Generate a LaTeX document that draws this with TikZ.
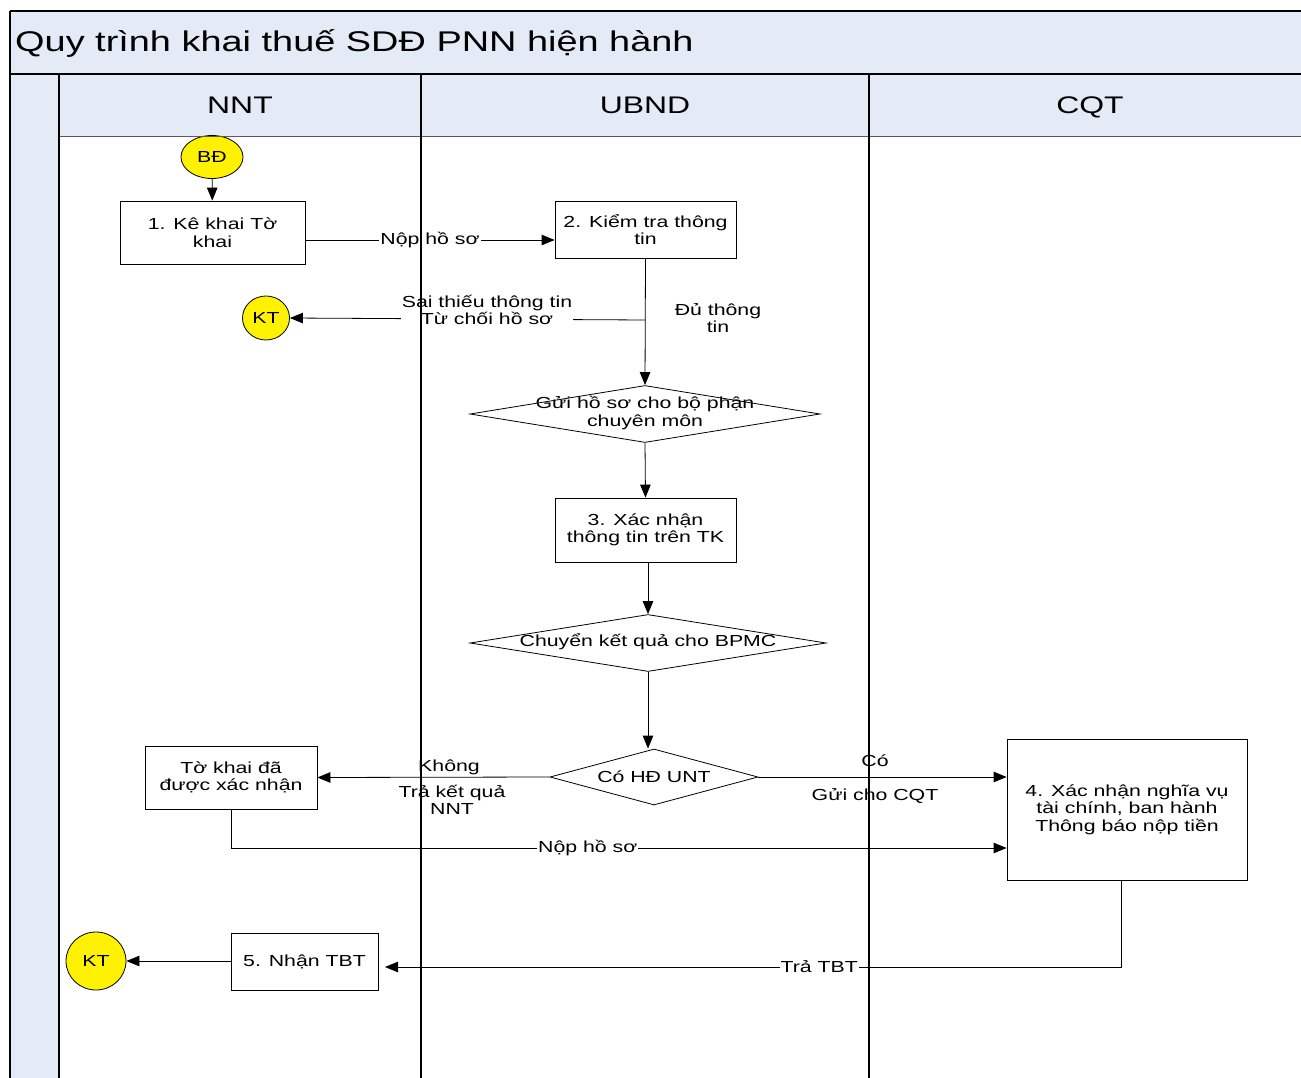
\documentclass[tikz,border=0pt]{standalone}
\usepackage{fontspec}
\setmainfont{Liberation Sans}[FakeStretch=1.33]
\usetikzlibrary{arrows.meta,shapes.geometric}
\definecolor{lanebg}{RGB}{228,235,246}
\definecolor{lanegray}{RGB}{90,90,90}
\tikzset{
  every node/.style={font=\fontsize{16}{17.5}\selectfont},
  proc/.style={draw=black, line width=0.8pt, fill=white, inner sep=0pt, align=center},
  dia/.style={draw=black, line width=0.8pt, diamond, inner sep=0pt},
  term/.style={draw=black, line width=0.8pt, fill=yellow, ellipse, inner sep=0pt},
  arr/.style={line width=0.8pt, -{Triangle[length=13pt,width=10.5pt]}},
  lbl/.style={align=center, inner sep=1pt},
  wlbl/.style={align=center, inner sep=1pt, fill=white},
  lane/.style={line width=1.2pt, draw=black},
  hdr/.style={font=\fontsize{24}{28}\selectfont, anchor=base}
}
\begin{document}
\begin{tikzpicture}[x=1pt,y=-1pt]
\useasboundingbox (0,0) rectangle (1301,1078);
% backgrounds
\fill[lanebg] (10,11) rectangle (1301,74);
\fill[lanebg] (10,74) rectangle (1301,137);
\fill[lanebg] (10,137) rectangle (59,1078);
\node[anchor=base west, inner sep=0pt, font=\fontsize{28.5}{32}\selectfont] (title) at (15,52) {Quy trình khai thuế SDĐ PNN hiện hành};
\node[hdr] (hnnt) at (240,113.5) {NNT};
\node[hdr] (hubnd) at (645,113.5) {UBND};
\node[hdr] (hcqt) at (1090,113.5) {CQT};

% nodes
\node[term, minimum width=62pt, minimum height=43pt] (bd) at (212,157) {BĐ};
\node[proc, minimum width=185pt, minimum height=63pt] (b1) at (212.5,232.5) {1. Kê khai Tờ\\khai};
\node[proc, minimum width=181pt, minimum height=57pt] (b2) at (645.5,229.5) {2. Kiểm tra thông\\tin};
\node[term, minimum width=47pt, minimum height=44pt] (kt1) at (266,318) {KT};
\node[dia, minimum width=350pt, minimum height=57pt] (d1) at (645,414) {};
\node[lbl] (d1t) at (645,413) {Gửi hồ sơ cho bộ phận\\chuyên môn};
\node[proc, minimum width=181pt, minimum height=64pt] (b3) at (645.5,530) {3. Xác nhận\\thông tin trên TK};
\node[dia, minimum width=356pt, minimum height=57pt] (d2) at (648,643) {};
\node[lbl] (d2t) at (648,642) {Chuyển kết quả cho BPMC};
\node[dia, minimum width=208pt, minimum height=56pt] (d3) at (654,777) {};
\node[lbl] (d3t) at (654,777) {Có HĐ UNT};
\node[proc, minimum width=172pt, minimum height=63pt] (tk) at (231,777.5) {Tờ khai đã\\được xác nhận};
\node[proc, minimum width=240pt, minimum height=141pt] (b4) at (1127,809.5) {4. Xác nhận nghĩa vụ\\tài chính, ban hành\\Thông báo nộp tiền};
\node[proc, minimum width=147pt, minimum height=57pt] (b5) at (304.5,961.5) {5. Nhận TBT};
\node[term, minimum width=60pt, minimum height=58pt] (kt2) at (96,961) {KT};

% connectors
\coordinate (y240) at (0,240);
\draw[arr] (bd) -- (b1);
\draw[arr] (b1.east |- y240) -- node[wlbl, pos=0.5] {Nộp hồ sơ} (b2.west |- y240);
\coordinate (br) at (645,320);
\draw[arr] (b2.south) -- (d1.north);
\draw[arr] (br) -- (kt1.east);
\node[wlbl] (sai) at (487,310) {Sai thiếu thông tin\\Từ chối hồ sơ};
\node[lbl] (du) at (718,318) {Đủ thông\\tin};
\draw[arr] (d1.south) -- (b3.north);
\draw[arr] (b3.south -| d2.north) -- (d2.north);
\draw[arr] (d2.south) -- (d3.north -| d2.south);
\draw[arr] (d3.west) -- (tk.east);
\node[lbl] (khong) at (449,767) {Không};
\node[lbl] (trakq) at (452,800) {Trả kết quả\\NNT};
\draw[arr] (d3.east) -- (d3.east -| b4.west);
\node[lbl] (co) at (875,761) {Có};
\node[lbl] (gui) at (875,796) {Gửi cho CQT};
\coordinate (c1) at (231,848);
\draw[arr] (tk.south) -- (c1) -- node[wlbl, pos=0.46] {Nộp hồ sơ} (c1 -| b4.west);
\coordinate (c2) at (1121,967);
\coordinate (c3) at (385,967);
\draw[arr] (b4.south -| c2) -- (c2) -- node[wlbl, pos=0.41] {Trả TBT} (c3);
\draw[arr] (b5.west |- kt2.east) -- (kt2.east);

% lane lines on top
\draw[line width=1pt, lanegray] (59,137) -- (1301,137);
\draw[lane] (10,11) -- (1301,11);
\draw[lane] (10,74) -- (1301,74);
\draw[lane] (10,11) -- (10,1078);
\draw[lane] (59,74) -- (59,1078);
\draw[lane] (421,74) -- (421,1078);
\draw[lane] (869,74) -- (869,1078);
\end{tikzpicture}
\end{document}
